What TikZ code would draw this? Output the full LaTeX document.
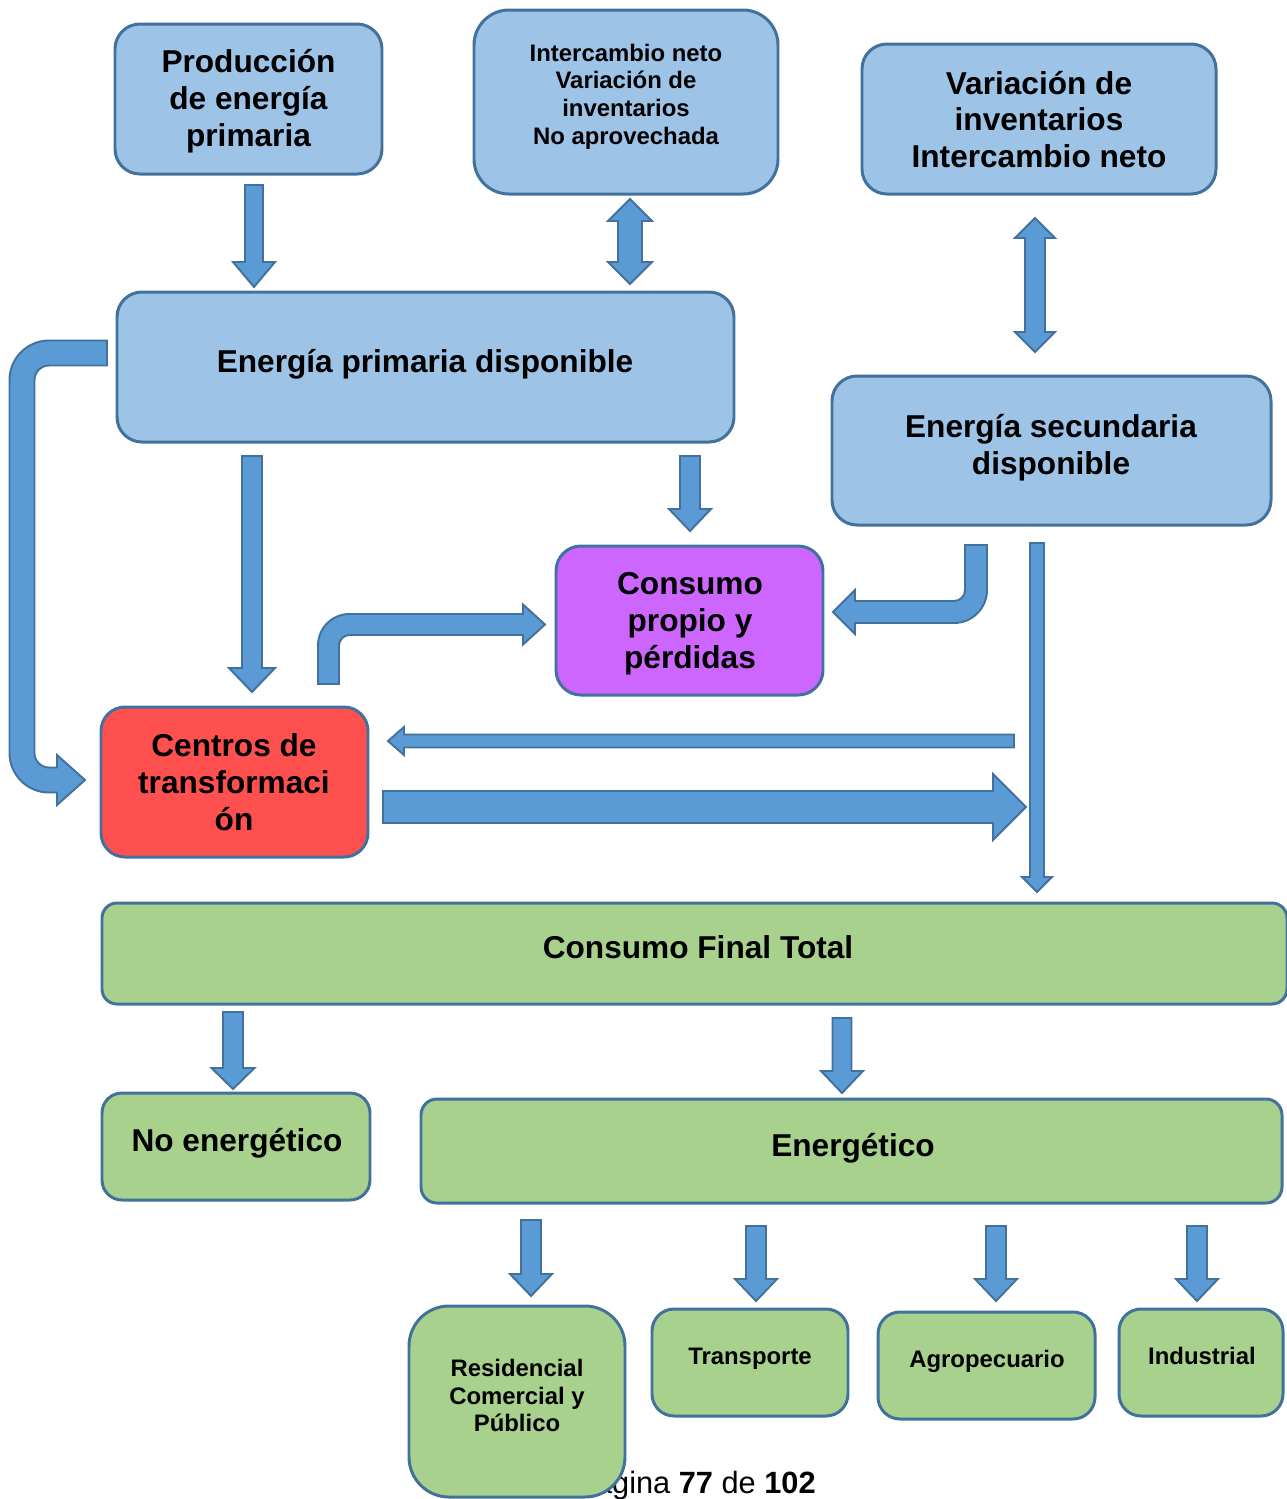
\documentclass[tikz,border=0pt]{standalone}
\usepackage{fontspec}
\setmainfont{Liberation Sans}
\definecolor{lblue}{HTML}{9DC3E6}
\definecolor{bord}{HTML}{41719C}
\definecolor{arrf}{HTML}{5B9BD5}
\definecolor{purp}{HTML}{CC66FF}
\definecolor{redb}{HTML}{FF5050}
\definecolor{grn}{HTML}{A9D18E}

% rounded box: name, fill, corner radius, x1, y1, x2, y2 (pixel grid)
\newcommand\mkbox[7]{%
  \node[bx, fill=#2, rounded corners=#3,
        minimum width={(#6-#4)*0.02cm}, minimum height={(#7-#5)*0.02cm}]
        (#1) at ({(#4+#6)/2},{(#5+#7)/2}) {};}
% vertical block arrow: cx, tail y, tip y, shaft half width, head half width, signed head length
\newcommand\blkv[6]{%
  \filldraw[arr] ({#1-#4},#2) -- ({#1+#4},#2) -- ({#1+#4},{#3-(#6)}) -- ({#1+#5},{#3-(#6)})
    -- (#1,#3) -- ({#1-#5},{#3-(#6)}) -- ({#1-#4},{#3-(#6)}) -- cycle;}
% horizontal block arrow: cy, tail x, tip x, shaft half width, head half width, signed head length
\newcommand\blkh[6]{%
  \filldraw[arr] (#2,{#1-#4}) -- ({#3-(#6)},{#1-#4}) -- ({#3-(#6)},{#1-#5}) -- (#3,#1)
    -- ({#3-(#6)},{#1+#5}) -- ({#3-(#6)},{#1+#4}) -- (#2,{#1+#4}) -- cycle;}
% vertical double block arrow: cx, top tip, bottom tip, shaft half, head half, head length
\newcommand\blkdv[6]{%
  \filldraw[arr] (#1,#2) -- ({#1+#5},{#2+#6}) -- ({#1+#4},{#2+#6}) -- ({#1+#4},{#3-#6})
    -- ({#1+#5},{#3-#6}) -- (#1,#3) -- ({#1-#5},{#3-#6}) -- ({#1-#4},{#3-#6})
    -- ({#1-#4},{#2+#6}) -- ({#1-#5},{#2+#6}) -- cycle;}

\tikzset{
  bx/.style={draw=bord, line width=1.7pt, inner sep=0pt, outer sep=0pt},
  arr/.style={fill=arrf, draw=bord, line width=1.1pt, line join=miter},
  big/.style={font=\bfseries\fontsize{18}{21}\selectfont, align=center, inner sep=0pt},
  small/.style={font=\bfseries\fontsize{13.6}{15.7}\selectfont, align=center, inner sep=0pt},
}

\begin{document}
\begin{tikzpicture}[x=0.02cm,y=-0.02cm]
\useasboundingbox (0,0) rectangle (1286,1499);

% page footer, partly hidden behind the lowest boxes
\node[anchor=base east, font=\fontsize{17.5}{20}\selectfont, inner sep=0pt] (pie) at (816,1493)
  {Página \textbf{77} de \textbf{102}};

% boxes
\mkbox{prod}{lblue}{0.5cm}{115}{24}{382}{174}
\mkbox{inter}{lblue}{0.7cm}{474}{10}{778}{194}
\mkbox{varinv}{lblue}{0.5cm}{862}{44}{1216}{194}
\mkbox{eprim}{lblue}{0.5cm}{117}{292}{734}{442}
\mkbox{esec}{lblue}{0.5cm}{832}{376}{1271}{525}
\mkbox{cprop}{purp}{0.5cm}{556}{546}{823}{695}
\mkbox{centros}{redb}{0.48cm}{101}{707}{368}{857}
\mkbox{cft}{grn}{0.3cm}{102}{903}{1287}{1004}
\mkbox{noen}{grn}{0.4cm}{102}{1093}{370}{1200}
\mkbox{energ}{grn}{0.32cm}{421}{1099}{1282}{1203}
\mkbox{resid}{grn}{0.8cm}{409}{1306}{625}{1497}
\mkbox{transp}{grn}{0.44cm}{652}{1309}{848}{1416}
\mkbox{agro}{grn}{0.44cm}{878}{1312}{1095}{1419}
\mkbox{indus}{grn}{0.44cm}{1119}{1309}{1283}{1416}

% box texts
\node[big]   (prodT)    at (248.5,101.5) {Producción\\de energía\\primaria};
\node[small] (interT)   at (626,96.5)  {Intercambio neto\\Variación de\\inventarios\\No aprovechada};
\node[big]   (varinvT)  at (1039,119.5){Variación de\\inventarios\\Intercambio neto};
\node[big]   (eprimT)   at (425,364)   {Energía primaria disponible};
\node[big]   (esecT)    at (1051,447.5){Energía secundaria\\disponible};
\node[big]   (cpropT)   at (690,623.5) {Consumo\\propio y\\pérdidas};
\node[big]   (centrosT) at (234,782)   {Centros de\\transformaci\\ón};
\node[big]   (cftT)     at (698,947)   {Consumo Final Total};
\node[big]   (noenT)    at (237,1143)  {No energético};
\node[big]   (energT)   at (853,1148)  {Energético};
\node[small] (residT)   at (517,1395.5){Residencial\\Comercial y\\Público};
\node[small] (transpT)  at (750,1358.5){Transporte};
\node[small] (agroT)    at (987,1361)  {Agropecuario};
\node[small] (indusT)   at (1202,1356) {Industrial};

% straight block arrows
\blkv{254}{185}{287}{9}{21}{25}
\blkdv{630}{199}{284}{12}{22}{22}
\blkdv{1035}{218}{352}{10}{20}{20}
\blkv{252}{456}{692}{10}{23}{24}
\blkv{690}{456}{531}{10}{21}{22}
\blkh{741}{1014}{388}{6.5}{14}{-16}
\blkh{807}{383}{1026}{16}{33}{33}
\blkv{1037}{543}{892}{7}{15}{15}
\blkv{233}{1012}{1089}{10}{21.5}{21}
\blkv{842}{1018}{1093}{9.5}{21}{22}
\blkv{531}{1220}{1296}{10}{21}{22}
\blkv{756}{1226}{1301}{10}{21}{22}
\blkv{996}{1226}{1301}{10}{21}{22}
\blkv{1197}{1226}{1301}{10}{21}{22}

% bent arrow: primary energy around the left side into the transformation centres
\filldraw[arr] (107,340.5) -- (49,340.5)
  .. controls (27.2,340.5) and (9.5,358.2) .. (9.5,380) -- (9.5,753)
  .. controls (9.5,774.8) and (27.2,792.5) .. (49,792.5) -- (57,792.5) -- (57,805)
  -- (85,780) -- (57,755) -- (57,767.5) -- (49,767.5)
  .. controls (41,767.5) and (34.5,761) .. (34.5,753) -- (34.5,380)
  .. controls (34.5,372) and (41,365.5) .. (49,365.5) -- (107,365.5) -- cycle;

% bent arrow: transformation centres up into own consumption
\filldraw[arr] (318,684) -- (318,645.5)
  .. controls (318,628.1) and (332.1,614) .. (349.5,614) -- (523,614) -- (523,604.5)
  -- (545,624.5) -- (523,644.5) -- (523,635) -- (349.5,635)
  .. controls (343.7,635) and (339,639.7) .. (339,645.5) -- (339,684) -- cycle;

% bent arrow: secondary energy down into own consumption
\filldraw[arr] (965,545) -- (987,545) -- (987,590)
  .. controls (987,608.2) and (972.2,623) .. (954,623) -- (855,623) -- (855,634)
  -- (833,612) -- (855,590) -- (855,601) -- (954,601)
  .. controls (960.07,601) and (965,596.07) .. (965,590) -- cycle;
\end{tikzpicture}
\end{document}
